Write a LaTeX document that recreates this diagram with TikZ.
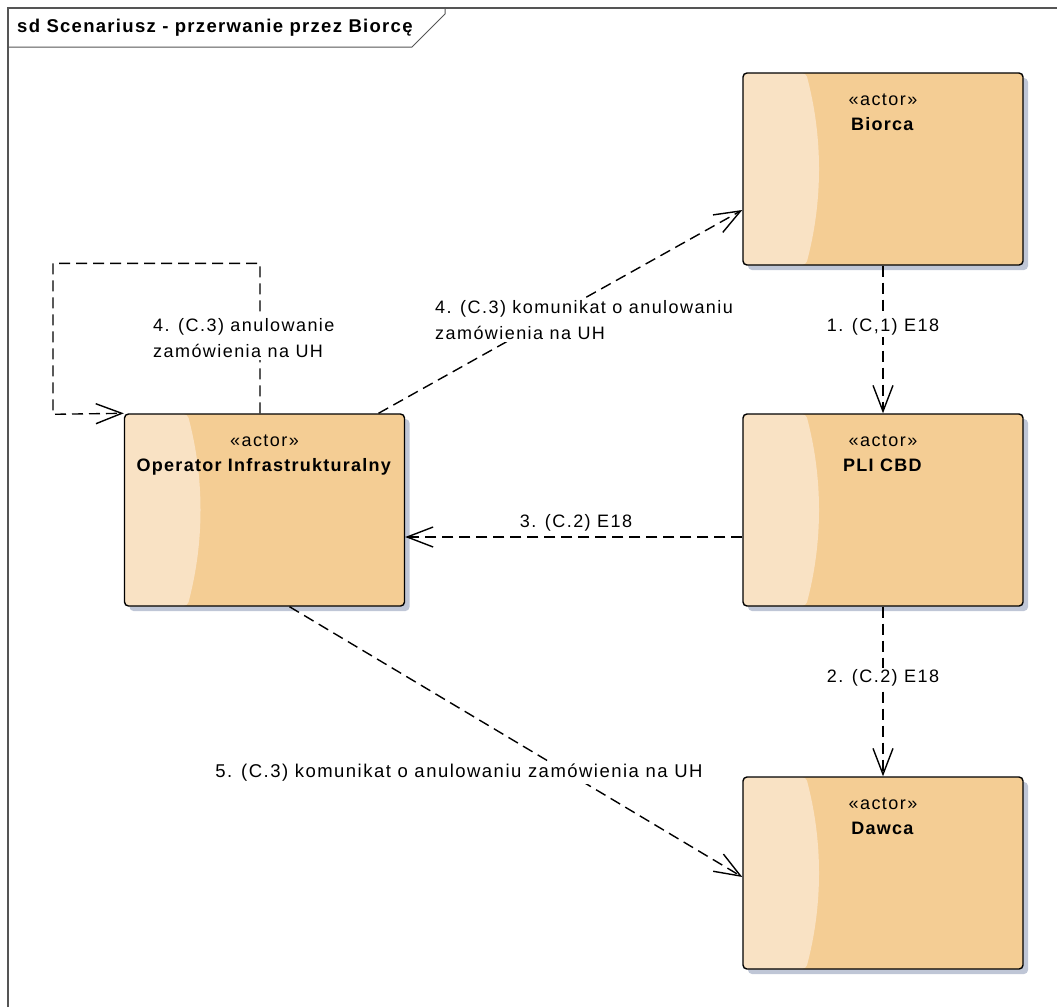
\documentclass[tikz,border=0pt]{standalone}
\usepackage{fontspec}
\setmainfont{Liberation Sans}[LetterSpace=8]
\usetikzlibrary{arrows.meta, positioning, shadows}
\definecolor{ActorFill}{HTML}{F4CD94}
\definecolor{ActorLight}{HTML}{F9E2C4}
\definecolor{ShadowGray}{HTML}{BFC6D6}
\definecolor{FrameGray}{HTML}{555555}
\tikzset{
  actorbox/.style={draw=black, line width=1.4pt, rounded corners=4pt, fill=ActorFill, minimum width=280pt, minimum height=192pt, inner sep=0pt,
    drop shadow={shadow xshift=5pt, shadow yshift=-5pt, fill=ShadowGray, opacity=1},
    path picture={\fill[ActorLight] (path picture bounding box.north west) -- ([xshift=63pt]path picture bounding box.north west) .. controls +(17pt,-64pt) and +(17pt,64pt) .. ([xshift=63pt]path picture bounding box.south west) -- (path picture bounding box.south west) -- cycle;}},
  stereo/.style={align=center, inner sep=0pt, font=\fontsize{18}{25}\selectfont},
  msg/.style={dash pattern=on 11pt off 6pt, line width=1.4pt, -{Straight Barb[length=26pt, width=20pt, line width=1.4pt]}},
  msglabel/.style={fill=white, inner sep=2pt, align=left, font=\fontsize{18}{26}\selectfont}
}
\newcommand{\actorname}[1]{\textbf{\addfontfeature{LetterSpace=7}#1}}
\begin{document}
\begin{tikzpicture}[x=1pt, y=-1pt]
\useasboundingbox (0,0) rectangle (1057,1007);

% frame
\draw[FrameGray, line width=1.5pt] (8,1007) -- (8,8) -- (1057,8);
\draw[FrameGray, line width=1pt] (8,47) -- (412,47) -- (445,14) -- (445,8);
\node[anchor=west, inner sep=0pt, font=\fontsize{18.5}{20}\selectfont\bfseries\addfontfeature{LetterSpace=7}] (title) at (17,28) {sd Scenariusz - przerwanie przez Biorcę};

% actors
\node[actorbox] (biorca) at (883,169) {};
\node[actorbox] (pli) at (883,510) {};
\node[actorbox] (oper) at (264.5,510) {};
\node[actorbox] (dawca) at (883,873) {};

\node[stereo, below=21pt of biorca.north] (biorcaT) {«actor»\\\actorname{Biorca}};
\node[stereo, below=21pt of pli.north] (pliT) {«actor»\\\actorname{PLI CBD}};
\node[stereo, below=21pt of oper.north] (operT) {«actor»\\\actorname{Operator Infrastrukturalny}};
\node[stereo, below=21pt of dawca.north] (dawcaT) {«actor»\\\actorname{Dawca}};

% messages
\draw[msg] (biorca.south) -- (pli.north);
\draw[msg] (pli.south) -- (dawca.north);
\draw[msg] ([yshift=-27pt]pli.west) -- ([yshift=-27pt]oper.east);
\draw[msg] ([xshift=114pt]oper.north) -- ([yshift=-41pt]biorca.west);
\draw[msg] ([xshift=-4.5pt]oper.north) -- ++(0,-150) -- ++(-207,0) -- ++(0,151) -- (oper.north west);
\draw[msg] ([xshift=25pt]oper.south) -- ([yshift=-4pt]dawca.west);

% labels
\node[msglabel] (m1) at (883,327) {1. (C,1) E18};
\node[msglabel] (m2) at (883,678) {2. (C.2) E18};
\node[msglabel, fill=none] (m3) at (576,523) {3. (C.2) E18};
\node[msglabel, anchor=west] (m4) at (433,320) {4. (C.3) komunikat o anulowaniu\\zamówienia na UH};
\node[msglabel, anchor=west] (m4s) at (151,338) {4. (C.3) anulowanie\\zamówienia na UH};
\node[msglabel, font=\fontsize{18.5}{26}\selectfont] (m5) at (459,773) {5. (C.3) komunikat o anulowaniu zamówienia na UH};
\end{tikzpicture}
\end{document}
